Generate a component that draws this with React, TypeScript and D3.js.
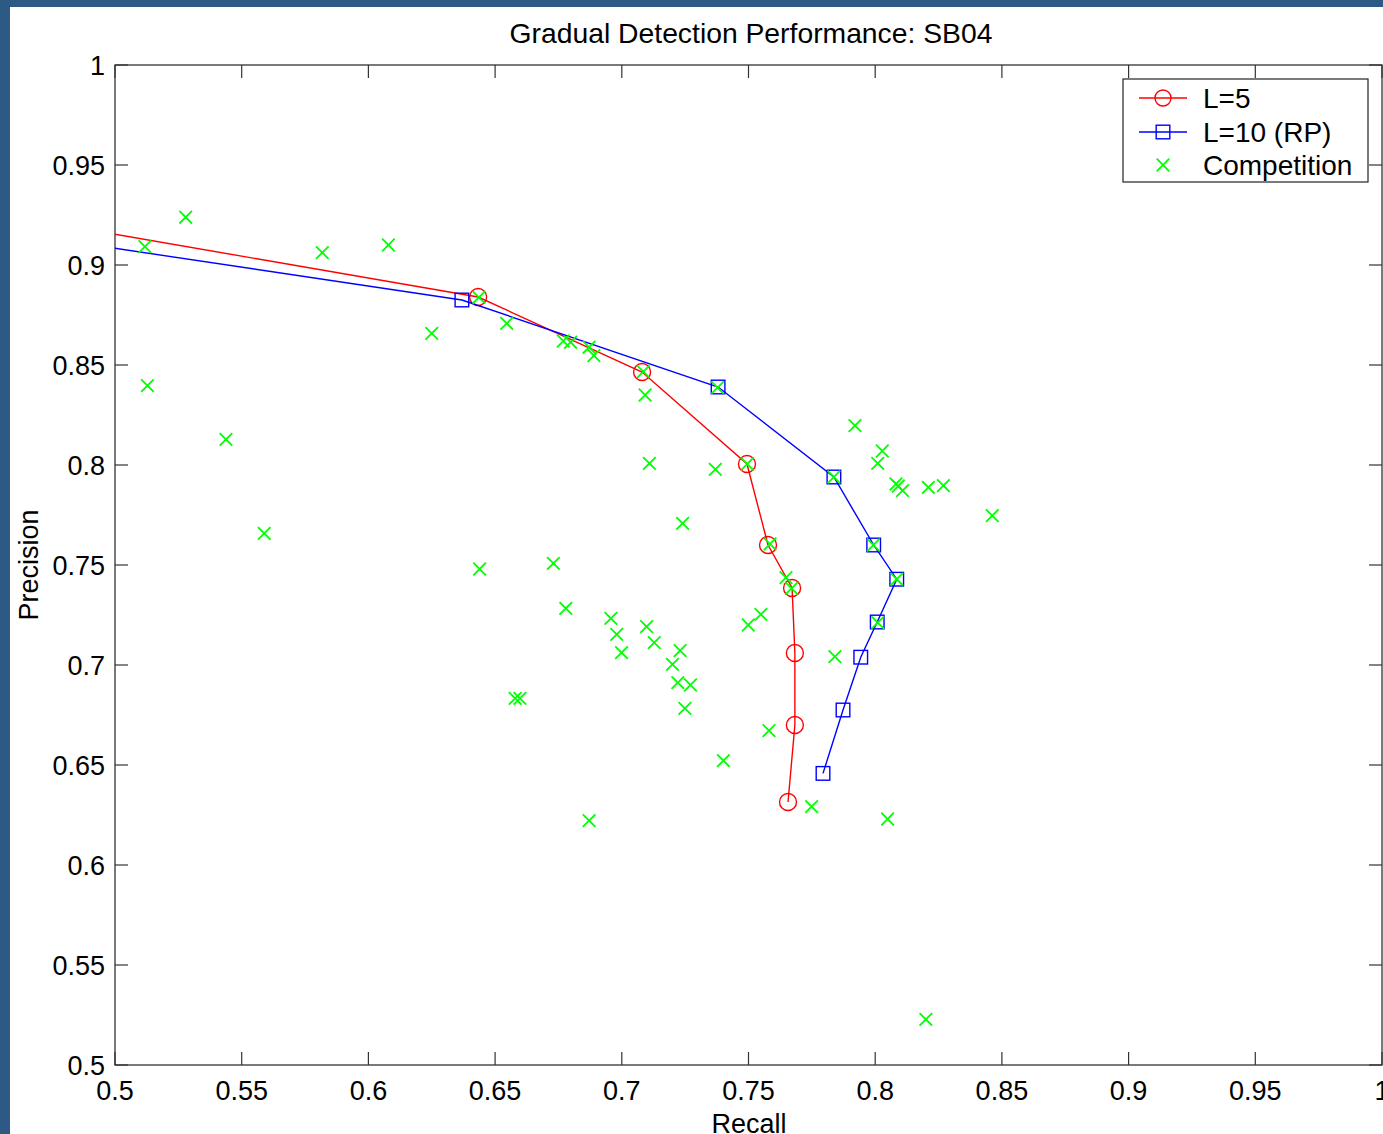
import React from "react";
import * as d3 from "d3";

const xTicks = [0.5, 0.55, 0.6, 0.65, 0.7, 0.75, 0.8, 0.85, 0.9, 0.95, 1];
const yTicks = [0.5, 0.55, 0.6, 0.65, 0.7, 0.75, 0.8, 0.85, 0.9, 0.95, 1];
const xTickLabels = ["0.5", "0.55", "0.6", "0.65", "0.7", "0.75", "0.8", "0.85", "0.9", "0.95", "1"];
const yTickLabels = ["0.5", "0.55", "0.6", "0.65", "0.7", "0.75", "0.8", "0.85", "0.9", "0.95", "1"];

const l5Recall = [0.45, 0.6433, 0.708, 0.7494, 0.7577, 0.7672, 0.7683, 0.7683, 0.7656];
const l5Precision = [0.9263, 0.884, 0.8465, 0.8005, 0.76, 0.7385, 0.706, 0.67, 0.6315];

const l10Recall = [0.45, 0.6369, 0.738, 0.7837, 0.7994, 0.8085, 0.8008, 0.7943, 0.7873, 0.7794];
const l10Precision = [0.9178, 0.8825, 0.839, 0.794, 0.76, 0.7429, 0.7215, 0.7039, 0.6775, 0.6458];

const compRecall = [
  0.5118, 0.5279, 0.5818, 0.6079, 0.625, 0.5128, 0.5438, 0.5589, 0.6546, 0.6436,
  0.6769, 0.6798, 0.6871, 0.689, 0.7085, 0.7092, 0.7378, 0.7109, 0.7369, 0.7495,
  0.724, 0.7585, 0.792, 0.8028, 0.801, 0.7837, 0.8082, 0.8091, 0.8108, 0.821,
  0.8269, 0.8462, 0.7993, 0.7648, 0.767, 0.8085, 0.7549, 0.7499, 0.801, 0.7841,
  0.7581, 0.7401, 0.7749, 0.8049, 0.6439, 0.673, 0.6779, 0.6957, 0.698, 0.6999,
  0.7098, 0.7128, 0.723, 0.72, 0.7221, 0.7271, 0.7249, 0.6579, 0.6598, 0.6871, 0.82,
];
const compPrecision = [
  0.9092, 0.9239, 0.9062, 0.91, 0.8658, 0.8397, 0.8128, 0.7658, 0.8708, 0.8838,
  0.862, 0.8614, 0.8589, 0.8547, 0.8467, 0.835, 0.8387, 0.8008, 0.7978, 0.8005,
  0.7708, 0.7605, 0.8197, 0.807, 0.8008, 0.794, 0.7905, 0.7895, 0.7872, 0.7888,
  0.7897, 0.7747, 0.76, 0.7437, 0.7383, 0.7429, 0.7253, 0.72, 0.7212, 0.7042,
  0.6672, 0.6522, 0.6292, 0.623, 0.748, 0.7508, 0.7283, 0.7233, 0.7153, 0.7062,
  0.7192, 0.7112, 0.7072, 0.7003, 0.6912, 0.69, 0.6783, 0.6833, 0.6833, 0.6222, 0.5228,
];

const legendLabels = ["L=5", "L=10 (RP)", "Competition"];
const titleText = "Gradual Detection Performance: SB04";

const W = 1383;
const H = 1134;
const FONT = "'Liberation Sans', Arial, Helvetica, sans-serif";
const FS = 27;

export default function App() {
  const x = d3.scaleLinear().domain([0.5, 1]).range([115, 1382]);
  const y = d3.scaleLinear().domain([0.5, 1]).range([1065, 65]);
  const line = d3.line<[number, number]>().x((d) => x(d[0])).y((d) => y(d[1]));
  const l5 = l5Recall.map((r, i) => [r, l5Precision[i]] as [number, number]);
  const l10 = l10Recall.map((r, i) => [r, l10Precision[i]] as [number, number]);
  const comp = compRecall.map((r, i) => [r, compPrecision[i]] as [number, number]);
  const inDomain = (d: [number, number]) => d[0] >= 0.5 && d[0] <= 1 && d[1] >= 0.5 && d[1] <= 1;
  const x0 = x(0.5), x1 = x(1), y0 = y(0.5), y1 = y(1);
  const tl = 13;
  const axisColor = "#333";
  const xs = 6.3;
  const cross = (cx: number, cy: number, s: number) =>
    `M${cx - s},${cy - s}L${cx + s},${cy + s}M${cx - s},${cy + s}L${cx + s},${cy - s}`;

  const lgX = 1123, lgY = 79, lgW = 245, lgH = 103;
  const rows = [98, 132, 165];

  return (
    <svg width={W} height={H} style={{ position: "absolute", left: 0, top: 0, background: "#fff" }} fontFamily={FONT}>
      <defs>
        <clipPath id="plotClip">
          <rect x={x0} y={y1} width={x1 - x0} height={y0 - y1} />
        </clipPath>
      </defs>
      <rect x={0} y={0} width={W} height={H} fill="#fff" />
      <rect x={0} y={0} width={W} height={7} fill="#2c5a85" />
      <rect x={0} y={0} width={10} height={H} fill="#2c5a85" />

      {/* title */}
      <text x={751} y={43} textAnchor="middle" fontSize={28.3} fill="#000">{titleText}</text>

      {/* box */}
      <rect x={x0} y={y1} width={x1 - x0} height={y0 - y1} fill="#fff" stroke={axisColor} strokeWidth={1.3} />

      {/* ticks */}
      {xTicks.map((t, i) => (
        <g key={"xt" + i}>
          <line x1={x(t)} x2={x(t)} y1={y0} y2={y0 - tl} stroke={axisColor} strokeWidth={1.2} />
          <line x1={x(t)} x2={x(t)} y1={y1} y2={y1 + tl} stroke={axisColor} strokeWidth={1.2} />
          <text x={x(t)} y={1100} textAnchor="middle" fontSize={FS} fill="#000">{xTickLabels[i]}</text>
        </g>
      ))}
      {yTicks.map((t, i) => (
        <g key={"yt" + i}>
          <line x1={x0} x2={x0 + tl} y1={y(t)} y2={y(t)} stroke={axisColor} strokeWidth={1.2} />
          <line x1={x1} x2={x1 - tl} y1={y(t)} y2={y(t)} stroke={axisColor} strokeWidth={1.2} />
          <text x={105} y={y(t) + 10} textAnchor="end" fontSize={FS} fill="#000">{yTickLabels[i]}</text>
        </g>
      ))}

      {/* axis labels */}
      <text x={749} y={1133} textAnchor="middle" fontSize={FS} fill="#000">Recall</text>
      <text transform={`translate(38,${(y0 + y1) / 2}) rotate(-90)`} textAnchor="middle" fontSize={FS} fill="#000">Precision</text>

      {/* data */}
      <g clipPath="url(#plotClip)">
        <path d={line(l5) || ""} fill="none" stroke="#ff0000" strokeWidth={1.4} />
        {l5.filter(inDomain).map((d, i) => (
          <circle key={"c" + i} cx={x(d[0])} cy={y(d[1])} r={8.5} fill="none" stroke="#ff0000" strokeWidth={1.4} />
        ))}
        <path d={line(l10) || ""} fill="none" stroke="#0000ff" strokeWidth={1.4} />
        {l10.filter(inDomain).map((d, i) => (
          <rect key={"s" + i} x={x(d[0]) - 6.8} y={y(d[1]) - 6.8} width={13.6} height={13.6} fill="none" stroke="#0000ff" strokeWidth={1.4} />
        ))}
        {comp.map((d, i) => (
          <path key={"x" + i} d={cross(x(d[0]), y(d[1]), xs)} stroke="#00ff00" strokeWidth={1.8} fill="none" />
        ))}
      </g>

      {/* legend */}
      <rect x={lgX} y={lgY} width={lgW} height={lgH} fill="#fff" stroke="#222" strokeWidth={1.2} />
      <line x1={1139} x2={1187} y1={rows[0]} y2={rows[0]} stroke="#ff0000" strokeWidth={1.4} />
      <circle cx={1163} cy={rows[0]} r={8} fill="none" stroke="#ff0000" strokeWidth={1.4} />
      <line x1={1139} x2={1187} y1={rows[1]} y2={rows[1]} stroke="#0000ff" strokeWidth={1.4} />
      <rect x={1163 - 6.8} y={rows[1] - 6.8} width={13.6} height={13.6} fill="none" stroke="#0000ff" strokeWidth={1.4} />
      <path d={cross(1163, rows[2], xs)} stroke="#00ff00" strokeWidth={1.8} fill="none" />
      {legendLabels.map((l, i) => (
        <text key={"l" + i} x={1203} y={rows[i] + 10} fontSize={28} fill="#000">{l}</text>
      ))}
    </svg>
  );
}
